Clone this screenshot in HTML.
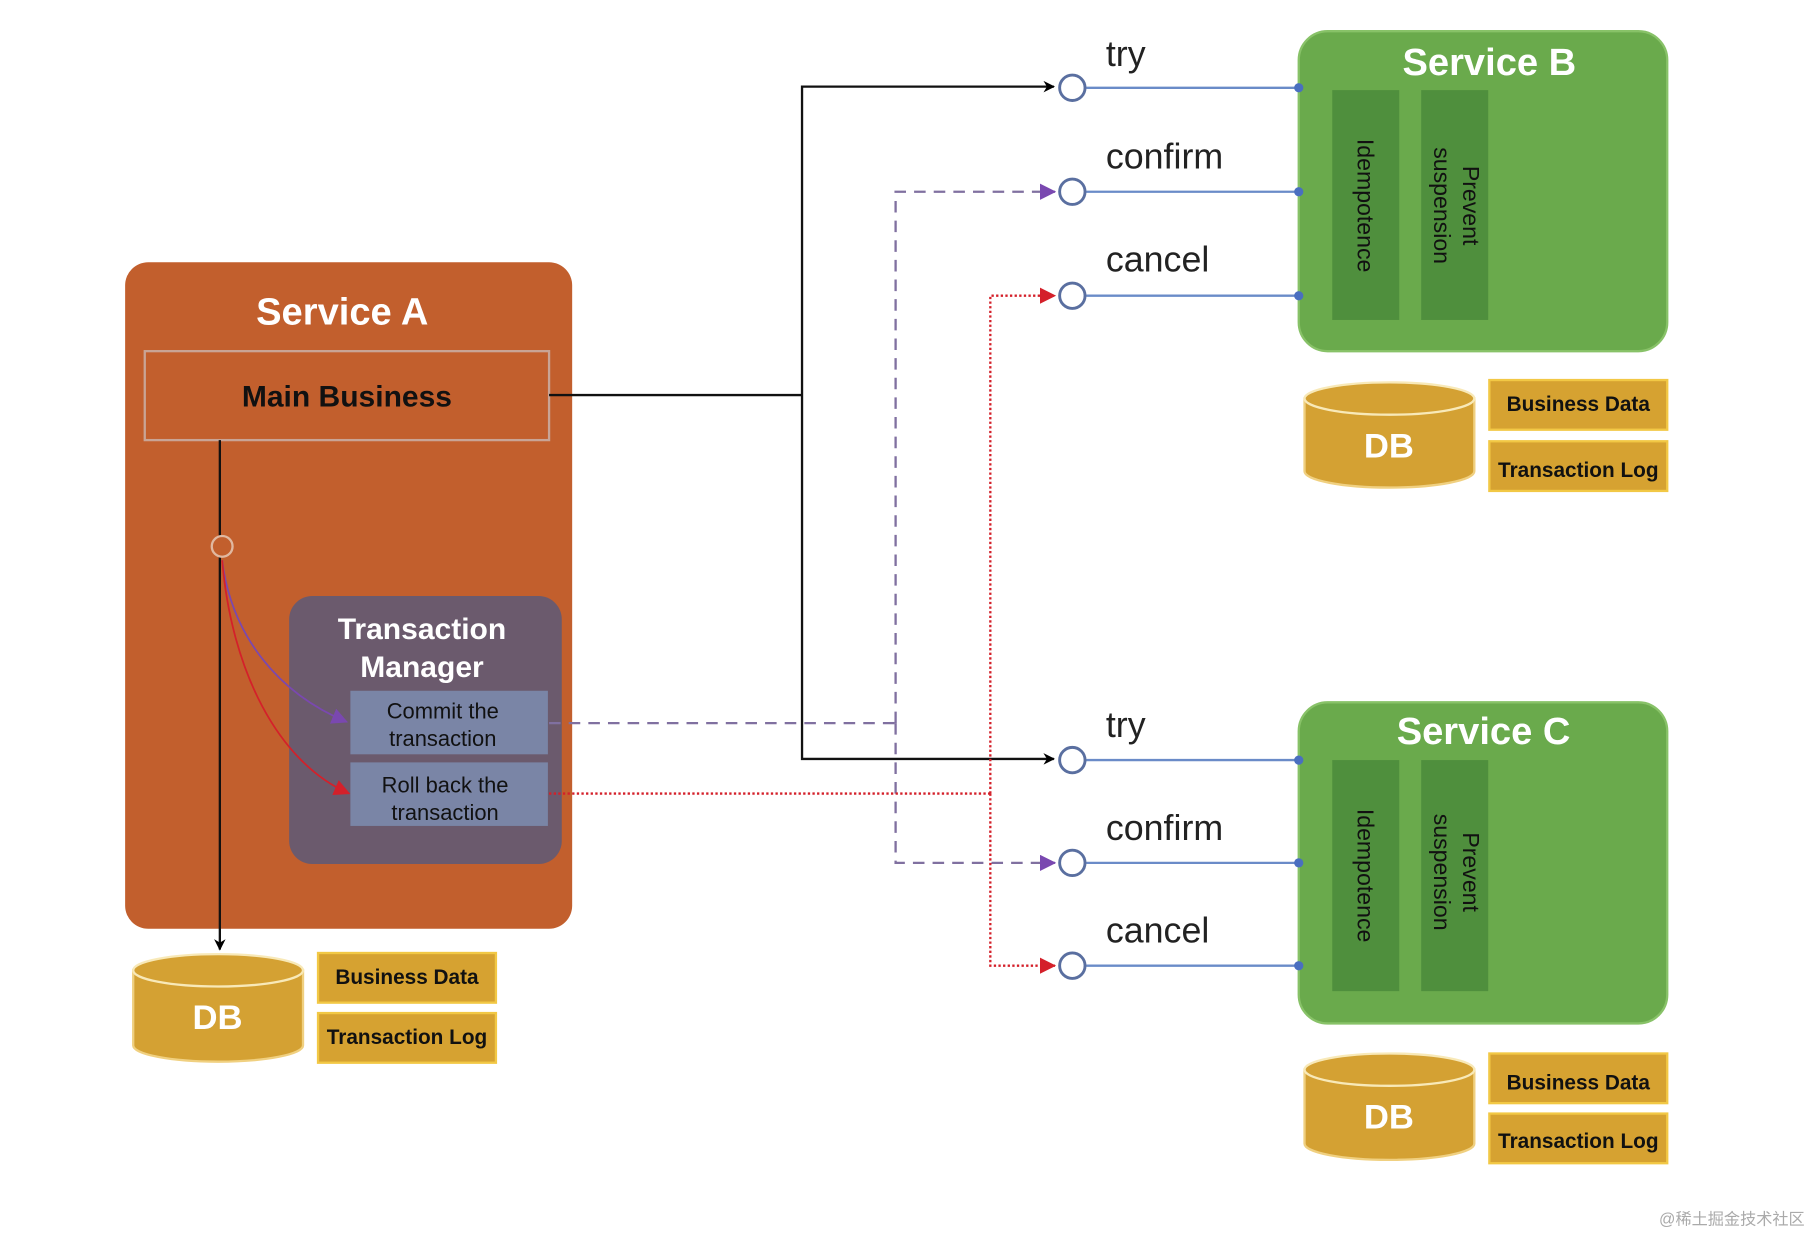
<!DOCTYPE html>
<html><head><meta charset="utf-8"><style>
html,body{margin:0;padding:0;background:#fff;width:1812px;height:1236px;overflow:hidden}
svg{display:block}
text{font-family:"Liberation Sans","Noto Sans CJK SC",sans-serif}
</style></head><body>
<svg width="1812" height="1236" viewBox="0 0 1568 1070" xmlns="http://www.w3.org/2000/svg">
<defs>
<marker id="ak" markerWidth="10" markerHeight="10" refX="9" refY="5" orient="auto" markerUnits="userSpaceOnUse"><path d="M0,0 L10,5 L0,10 L3,5 z" fill="#000"/></marker>
<marker id="ap" markerWidth="14" markerHeight="14" refX="13" refY="7" orient="auto" markerUnits="userSpaceOnUse"><path d="M0,0 L14,7 L0,14 z" fill="#7a48b0"/></marker>
<marker id="ar" markerWidth="14" markerHeight="14" refX="13" refY="7" orient="auto" markerUnits="userSpaceOnUse"><path d="M0,0 L14,7 L0,14 z" fill="#d4202a"/></marker>
</defs>
<rect width="1568" height="1070" fill="#fff"/>
<!-- Service A -->
<rect x="108" y="227" width="387" height="577" rx="20" fill="#c25f2d"/>
<text x="296" y="281" font-size="33" font-weight="bold" fill="#fff" text-anchor="middle">Service A</text>
<rect x="125" y="304" width="350" height="77" fill="none" stroke="#c9a495" stroke-width="2"/>
<text x="300" y="352" font-size="26" font-weight="bold" fill="#111" text-anchor="middle">Main Business</text>
<line x1="190" y1="381" x2="190" y2="822" stroke="#111" stroke-width="2" marker-end="url(#ak)"/>
<circle cx="192" cy="473" r="9" fill="#c25f2d" stroke="#e0b8a0" stroke-width="2"/>
<rect x="250" y="516" width="236" height="232" rx="20" fill="#6b5a6d"/>
<text x="365" y="553" font-size="26" font-weight="bold" fill="#fff" text-anchor="middle">Transaction</text>
<text x="365" y="586" font-size="26" font-weight="bold" fill="#fff" text-anchor="middle">Manager</text>
<rect x="303" y="598" width="171" height="55" fill="#7a85a6"/>
<text x="383" y="622" font-size="19" fill="#111" text-anchor="middle">Commit the</text>
<text x="383" y="646" font-size="19" fill="#111" text-anchor="middle">transaction</text>
<rect x="303" y="660" width="171" height="55" fill="#7a85a6"/>
<text x="385" y="686" font-size="19" fill="#111" text-anchor="middle">Roll back the</text>
<text x="385" y="710" font-size="19" fill="#111" text-anchor="middle">transaction</text>
<path d="M192,485 C200,550 240,600 300,625" fill="none" stroke="#7a48b0" stroke-width="1.5" marker-end="url(#ap)"/>
<path d="M192,485 C200,580 240,660 302,687" fill="none" stroke="#d4202a" stroke-width="1.5" marker-end="url(#ar)"/>
<!-- DB A -->
<path d="M115,840 L115,905 A73,14 0 0 0 262,905 L262,840 z" fill="#d4a133" stroke="#f0d080" stroke-width="2"/>
<ellipse cx="188.5" cy="840" rx="73.5" ry="14" fill="#d4a133" stroke="#f8e9b8" stroke-width="2"/>
<text x="188" y="891" font-size="30" font-weight="bold" fill="#fff" text-anchor="middle">DB</text>
<rect x="275" y="825" width="154" height="43" fill="#d6a231" stroke="#f2c845" stroke-width="2"/>
<text x="352" y="852" font-size="18" font-weight="bold" fill="#111" text-anchor="middle">Business Data</text>
<rect x="275" y="877" width="154" height="43" fill="#d6a231" stroke="#f2c845" stroke-width="2"/>
<text x="352" y="904" font-size="18" font-weight="bold" fill="#111" text-anchor="middle">Transaction Log</text>
<!-- black connectors -->
<polyline points="475,342 694,342" fill="none" stroke="#111" stroke-width="2"/>
<polyline points="694,342 694,75 912,75" fill="none" stroke="#111" stroke-width="2" marker-end="url(#ak)"/>
<polyline points="694,342 694,657 912,657" fill="none" stroke="#111" stroke-width="2" marker-end="url(#ak)"/>
<!-- purple dashed -->
<polyline points="475,626 775,626" fill="none" stroke="#8070a0" stroke-width="2" stroke-dasharray="10,7"/>
<polyline points="775,626 775,166 913,166" fill="none" stroke="#8070a0" stroke-width="2" stroke-dasharray="10,7" marker-end="url(#ap)"/>
<polyline points="775,626 775,747 913,747" fill="none" stroke="#8070a0" stroke-width="2" stroke-dasharray="10,7" marker-end="url(#ap)"/>
<!-- red dotted -->
<polyline points="475,687 857,687" fill="none" stroke="#d4202a" stroke-width="2" stroke-dasharray="2,2"/>
<polyline points="857,687 857,256 913,256" fill="none" stroke="#d4202a" stroke-width="2" stroke-dasharray="2,2" marker-end="url(#ar)"/>
<polyline points="857,687 857,836 913,836" fill="none" stroke="#d4202a" stroke-width="2" stroke-dasharray="2,2" marker-end="url(#ar)"/>
<!-- interface circles & lines -->
<g stroke="#6a8bc8" stroke-width="2">
<line x1="940" y1="76" x2="1124" y2="76"/><line x1="940" y1="166" x2="1124" y2="166"/><line x1="940" y1="256" x2="1124" y2="256"/>
<line x1="940" y1="658" x2="1124" y2="658"/><line x1="940" y1="747" x2="1124" y2="747"/><line x1="940" y1="836" x2="1124" y2="836"/>
</g>
<g fill="#fff" stroke="#5a6fa0" stroke-width="2.5">
<circle cx="928" cy="76" r="11"/><circle cx="928" cy="166" r="11"/><circle cx="928" cy="256" r="11"/>
<circle cx="928" cy="658" r="11"/><circle cx="928" cy="747" r="11"/><circle cx="928" cy="836" r="11"/>
</g>
<g font-size="31" fill="#222">
<text x="957" y="57">try</text><text x="957" y="146">confirm</text><text x="957" y="235">cancel</text>
<text x="957" y="638">try</text><text x="957" y="727">confirm</text><text x="957" y="816">cancel</text>
</g>
<!-- Service B -->
<rect x="1124" y="27" width="319" height="277" rx="25" fill="#6aaa4c" stroke="#88c268" stroke-width="2"/>
<text x="1289" y="65" font-size="33" font-weight="bold" fill="#fff" text-anchor="middle">Service B</text>
<rect x="1153" y="78" width="58" height="199" fill="#4f8f3d"/>
<rect x="1230" y="78" width="58" height="199" fill="#4f8f3d"/>
<text transform="translate(1175,178) rotate(90)" font-size="20" fill="#111" text-anchor="middle">Idempotence</text>
<text transform="translate(1266,178) rotate(90)" font-size="20" fill="#111" text-anchor="middle">Prevent</text>
<text transform="translate(1241,178) rotate(90)" font-size="20" fill="#111" text-anchor="middle">suspension</text>
<circle cx="1124" cy="76" r="4" fill="#4a6fc0"/><circle cx="1124" cy="166" r="4" fill="#4a6fc0"/><circle cx="1124" cy="256" r="4" fill="#4a6fc0"/>
<!-- Service C -->
<rect x="1124" y="608" width="319" height="278" rx="25" fill="#6aaa4c" stroke="#88c268" stroke-width="2"/>
<text x="1284" y="644" font-size="33" font-weight="bold" fill="#fff" text-anchor="middle">Service C</text>
<rect x="1153" y="658" width="58" height="200" fill="#4f8f3d"/>
<rect x="1230" y="658" width="58" height="200" fill="#4f8f3d"/>
<text transform="translate(1175,758) rotate(90)" font-size="20" fill="#111" text-anchor="middle">Idempotence</text>
<text transform="translate(1266,755) rotate(90)" font-size="20" fill="#111" text-anchor="middle">Prevent</text>
<text transform="translate(1241,755) rotate(90)" font-size="20" fill="#111" text-anchor="middle">suspension</text>
<circle cx="1124" cy="658" r="4" fill="#4a6fc0"/><circle cx="1124" cy="747" r="4" fill="#4a6fc0"/><circle cx="1124" cy="836" r="4" fill="#4a6fc0"/>
<!-- DB B -->
<path d="M1129,345 L1129,408 A73,14 0 0 0 1276,408 L1276,345 z" fill="#d4a133" stroke="#f0d080" stroke-width="2"/>
<ellipse cx="1202.5" cy="345" rx="73.5" ry="14" fill="#d4a133" stroke="#f8e9b8" stroke-width="2"/>
<text x="1202" y="396" font-size="30" font-weight="bold" fill="#fff" text-anchor="middle">DB</text>
<rect x="1289" y="329" width="154" height="43" fill="#d6a231" stroke="#f2c845" stroke-width="2"/>
<text x="1366" y="356" font-size="18" font-weight="bold" fill="#111" text-anchor="middle">Business Data</text>
<rect x="1289" y="382" width="154" height="43" fill="#d6a231" stroke="#f2c845" stroke-width="2"/>
<text x="1366" y="413" font-size="18" font-weight="bold" fill="#111" text-anchor="middle">Transaction Log</text>
<!-- DB C -->
<path d="M1129,926 L1129,990 A73,14 0 0 0 1276,990 L1276,926 z" fill="#d4a133" stroke="#f0d080" stroke-width="2"/>
<ellipse cx="1202.5" cy="926" rx="73.5" ry="14" fill="#d4a133" stroke="#f8e9b8" stroke-width="2"/>
<text x="1202" y="977" font-size="30" font-weight="bold" fill="#fff" text-anchor="middle">DB</text>
<rect x="1289" y="912" width="154" height="43" fill="#d6a231" stroke="#f2c845" stroke-width="2"/>
<text x="1366" y="943" font-size="18" font-weight="bold" fill="#111" text-anchor="middle">Business Data</text>
<rect x="1289" y="964" width="154" height="43" fill="#d6a231" stroke="#f2c845" stroke-width="2"/>
<text x="1366" y="994" font-size="18" font-weight="bold" fill="#111" text-anchor="middle">Transaction Log</text>
<text x="1562" y="1060" font-size="14" fill="#aaa" text-anchor="end">@稀土掘金技术社区</text>
</svg>
</body></html>
